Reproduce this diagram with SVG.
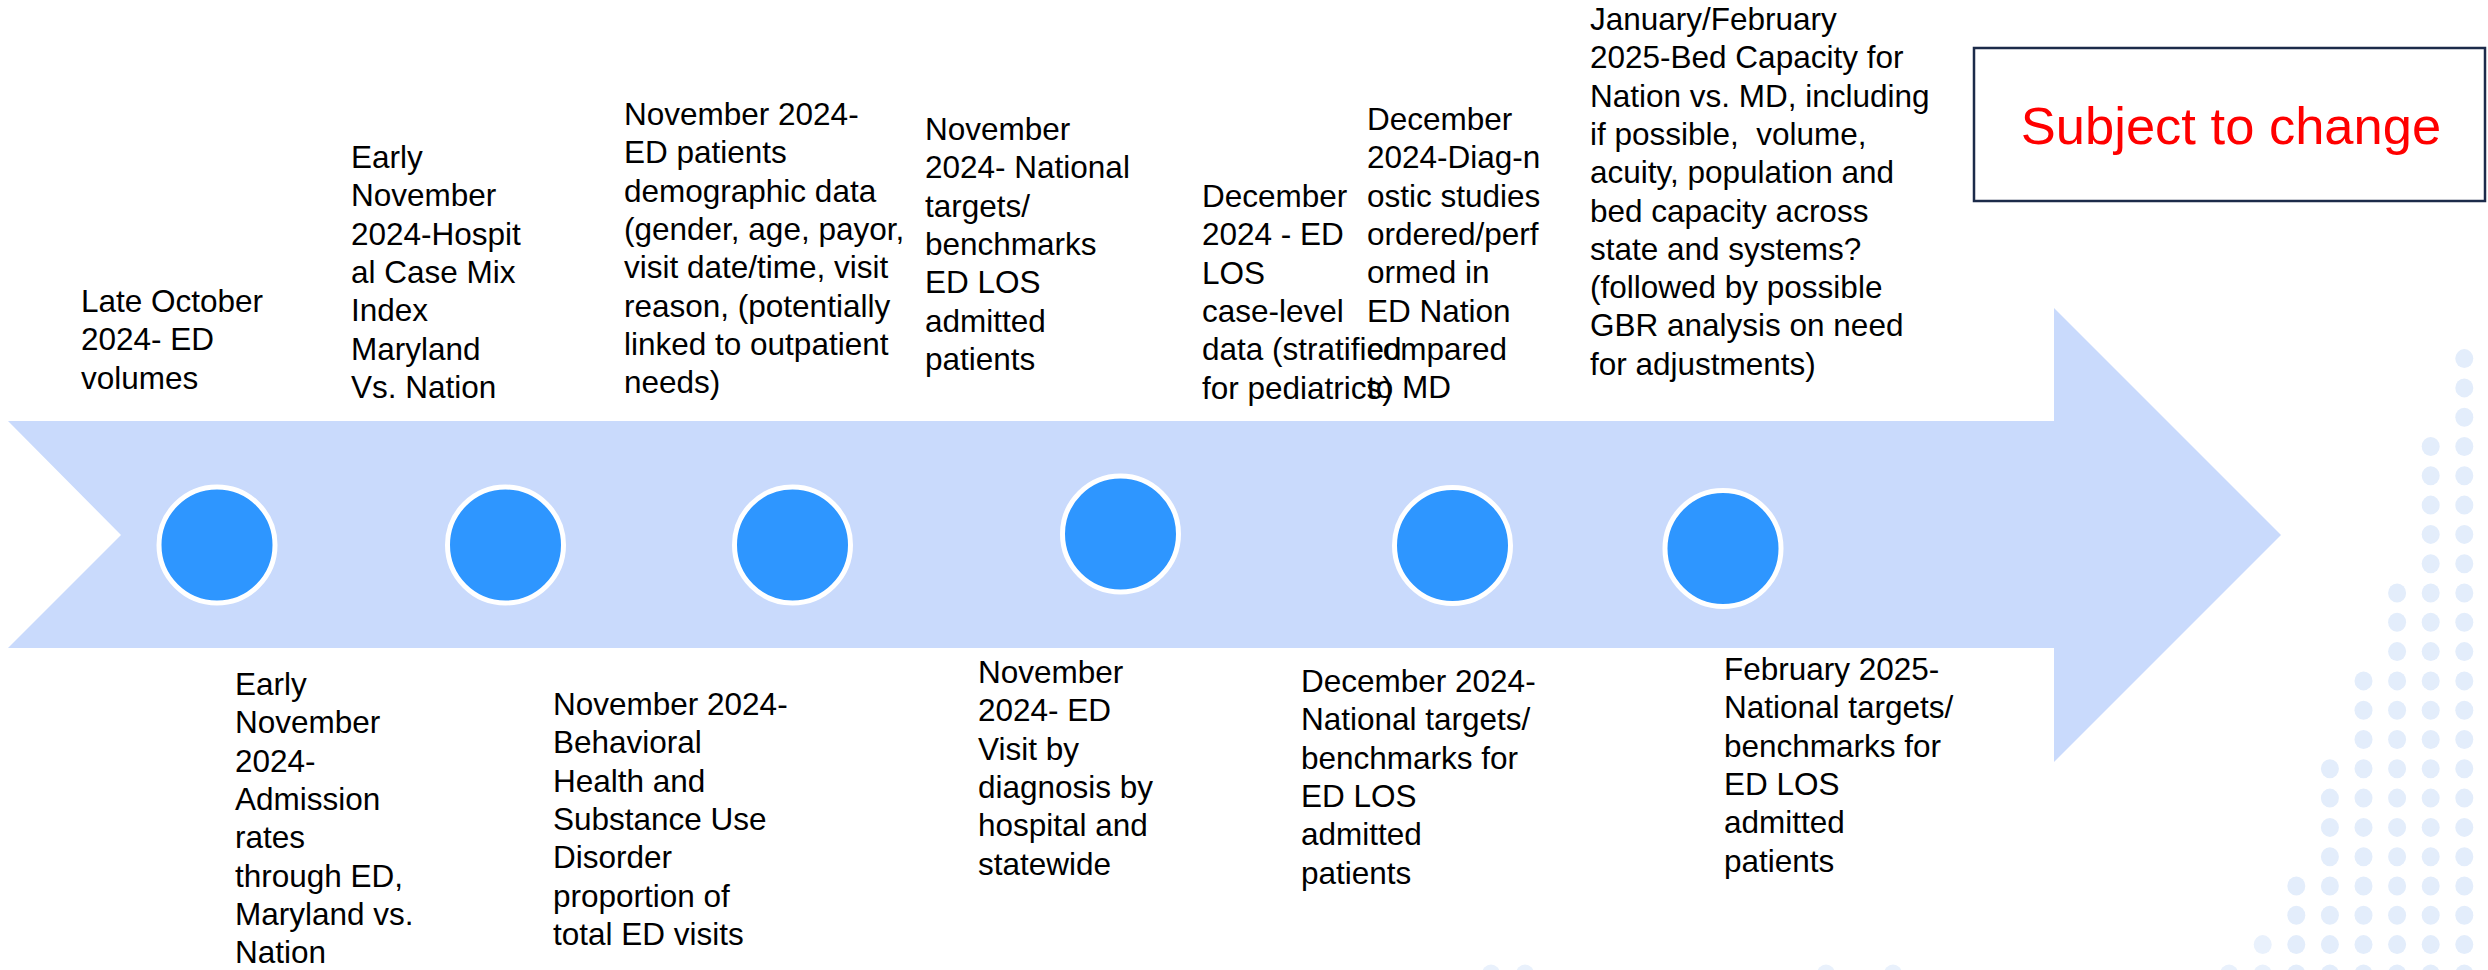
<svg xmlns="http://www.w3.org/2000/svg" width="2488" height="970" viewBox="0 0 2488 970">
<style>
.lbl{font-family:"Liberation Sans",Arial,sans-serif;font-size:31.5px;fill:#000000}
.ms{fill:#2E96FF;stroke:#FFFFFF;stroke-width:5}
.dot{fill:#E3EDFB}
.dotf{fill:#E9F1FC}
.note{font-family:"Liberation Sans",Arial,sans-serif;font-size:52.5px;fill:#FF0000}
</style>
<rect x="0" y="0" width="2488" height="970" fill="#FFFFFF"/>
<g id="dots">
<!-- col 0 -->
<ellipse class="dot" cx="2464.3" cy="358.6" rx="9" ry="9.5"/><ellipse class="dot" cx="2464.3" cy="387.9" rx="9" ry="9.5"/><ellipse class="dot" cx="2464.3" cy="417.2" rx="9" ry="9.5"/><ellipse class="dot" cx="2464.3" cy="446.5" rx="9" ry="9.5"/><ellipse class="dot" cx="2464.3" cy="475.8" rx="9" ry="9.5"/><ellipse class="dot" cx="2464.3" cy="505.1" rx="9" ry="9.5"/><ellipse class="dot" cx="2464.3" cy="534.4" rx="9" ry="9.5"/><ellipse class="dot" cx="2464.3" cy="563.7" rx="9" ry="9.5"/><ellipse class="dot" cx="2464.3" cy="593" rx="9" ry="9.5"/><ellipse class="dot" cx="2464.3" cy="622.3" rx="9" ry="9.5"/><ellipse class="dot" cx="2464.3" cy="651.6" rx="9" ry="9.5"/><ellipse class="dot" cx="2464.3" cy="680.9" rx="9" ry="9.5"/><ellipse class="dot" cx="2464.3" cy="710.2" rx="9" ry="9.5"/><ellipse class="dot" cx="2464.3" cy="739.5" rx="9" ry="9.5"/><ellipse class="dot" cx="2464.3" cy="768.8" rx="9" ry="9.5"/><ellipse class="dot" cx="2464.3" cy="798.1" rx="9" ry="9.5"/><ellipse class="dot" cx="2464.3" cy="827.4" rx="9" ry="9.5"/><ellipse class="dot" cx="2464.3" cy="856.7" rx="9" ry="9.5"/><ellipse class="dot" cx="2464.3" cy="886" rx="9" ry="9.5"/><ellipse class="dot" cx="2464.3" cy="915.3" rx="9" ry="9.5"/><ellipse class="dot" cx="2464.3" cy="944.6" rx="9" ry="9.5"/><ellipse class="dot" cx="2464.3" cy="973.9" rx="9" ry="9.5"/>
<!-- col 1 -->
<ellipse class="dot" cx="2430.7" cy="446.5" rx="9" ry="9.5"/><ellipse class="dot" cx="2430.7" cy="475.8" rx="9" ry="9.5"/><ellipse class="dot" cx="2430.7" cy="505.1" rx="9" ry="9.5"/><ellipse class="dot" cx="2430.7" cy="534.4" rx="9" ry="9.5"/><ellipse class="dot" cx="2430.7" cy="563.7" rx="9" ry="9.5"/><ellipse class="dot" cx="2430.7" cy="593" rx="9" ry="9.5"/><ellipse class="dot" cx="2430.7" cy="622.3" rx="9" ry="9.5"/><ellipse class="dot" cx="2430.7" cy="651.6" rx="9" ry="9.5"/><ellipse class="dot" cx="2430.7" cy="680.9" rx="9" ry="9.5"/><ellipse class="dot" cx="2430.7" cy="710.2" rx="9" ry="9.5"/><ellipse class="dot" cx="2430.7" cy="739.5" rx="9" ry="9.5"/><ellipse class="dot" cx="2430.7" cy="768.8" rx="9" ry="9.5"/><ellipse class="dot" cx="2430.7" cy="798.1" rx="9" ry="9.5"/><ellipse class="dot" cx="2430.7" cy="827.4" rx="9" ry="9.5"/><ellipse class="dot" cx="2430.7" cy="856.7" rx="9" ry="9.5"/><ellipse class="dot" cx="2430.7" cy="886" rx="9" ry="9.5"/><ellipse class="dot" cx="2430.7" cy="915.3" rx="9" ry="9.5"/><ellipse class="dot" cx="2430.7" cy="944.6" rx="9" ry="9.5"/><ellipse class="dot" cx="2430.7" cy="973.9" rx="9" ry="9.5"/>
<!-- col 2 -->
<ellipse class="dot" cx="2397.1" cy="593" rx="9" ry="9.5"/><ellipse class="dot" cx="2397.1" cy="622.3" rx="9" ry="9.5"/><ellipse class="dot" cx="2397.1" cy="651.6" rx="9" ry="9.5"/><ellipse class="dot" cx="2397.1" cy="680.9" rx="9" ry="9.5"/><ellipse class="dot" cx="2397.1" cy="710.2" rx="9" ry="9.5"/><ellipse class="dot" cx="2397.1" cy="739.5" rx="9" ry="9.5"/><ellipse class="dot" cx="2397.1" cy="768.8" rx="9" ry="9.5"/><ellipse class="dot" cx="2397.1" cy="798.1" rx="9" ry="9.5"/><ellipse class="dot" cx="2397.1" cy="827.4" rx="9" ry="9.5"/><ellipse class="dot" cx="2397.1" cy="856.7" rx="9" ry="9.5"/><ellipse class="dot" cx="2397.1" cy="886" rx="9" ry="9.5"/><ellipse class="dot" cx="2397.1" cy="915.3" rx="9" ry="9.5"/><ellipse class="dot" cx="2397.1" cy="944.6" rx="9" ry="9.5"/><ellipse class="dot" cx="2397.1" cy="973.9" rx="9" ry="9.5"/>
<!-- col 3 -->
<ellipse class="dot" cx="2363.5" cy="680.9" rx="9" ry="9.5"/><ellipse class="dot" cx="2363.5" cy="710.2" rx="9" ry="9.5"/><ellipse class="dot" cx="2363.5" cy="739.5" rx="9" ry="9.5"/><ellipse class="dot" cx="2363.5" cy="768.8" rx="9" ry="9.5"/><ellipse class="dot" cx="2363.5" cy="798.1" rx="9" ry="9.5"/><ellipse class="dot" cx="2363.5" cy="827.4" rx="9" ry="9.5"/><ellipse class="dot" cx="2363.5" cy="856.7" rx="9" ry="9.5"/><ellipse class="dot" cx="2363.5" cy="886" rx="9" ry="9.5"/><ellipse class="dot" cx="2363.5" cy="915.3" rx="9" ry="9.5"/><ellipse class="dot" cx="2363.5" cy="944.6" rx="9" ry="9.5"/><ellipse class="dot" cx="2363.5" cy="973.9" rx="9" ry="9.5"/>
<!-- col 4 -->
<ellipse class="dot" cx="2329.9" cy="768.8" rx="9" ry="9.5"/><ellipse class="dot" cx="2329.9" cy="798.1" rx="9" ry="9.5"/><ellipse class="dot" cx="2329.9" cy="827.4" rx="9" ry="9.5"/><ellipse class="dot" cx="2329.9" cy="856.7" rx="9" ry="9.5"/><ellipse class="dot" cx="2329.9" cy="886" rx="9" ry="9.5"/><ellipse class="dot" cx="2329.9" cy="915.3" rx="9" ry="9.5"/><ellipse class="dot" cx="2329.9" cy="944.6" rx="9" ry="9.5"/><ellipse class="dot" cx="2329.9" cy="973.9" rx="9" ry="9.5"/>
<!-- col 5 -->
<ellipse class="dot" cx="2296.3" cy="886" rx="9" ry="9.5"/><ellipse class="dot" cx="2296.3" cy="915.3" rx="9" ry="9.5"/><ellipse class="dot" cx="2296.3" cy="944.6" rx="9" ry="9.5"/><ellipse class="dot" cx="2296.3" cy="973.9" rx="9" ry="9.5"/>
<!-- col 6,7 and bottom row -->
<ellipse class="dotf" cx="2262.7" cy="944.6" rx="9" ry="9.5"/><ellipse class="dotf" cx="2262.7" cy="973.9" rx="9" ry="9.5"/>
<ellipse class="dotf" cx="2229.1" cy="973.9" rx="9" ry="9.5"/>
<ellipse class="dotf" cx="1893" cy="973.9" rx="9" ry="9.5"/><ellipse class="dotf" cx="1826" cy="973.9" rx="9" ry="9.5"/>
<ellipse class="dotf" cx="1525" cy="973.9" rx="9" ry="9.5"/><ellipse class="dotf" cx="1491" cy="973.9" rx="9" ry="9.5"/>
</g>
<g id="timeline-arrow">
<polygon points="8,421 2054,421 2054,308 2281,535 2054,762 2054,648 8,648 121,535" fill="#C9DAFC"/>
</g>
<g id="connectors"></g>
<g id="milestones">
<circle id="m1" class="ms" cx="217" cy="545" r="58"/>
<circle id="m2" class="ms" cx="505.5" cy="545" r="58"/>
<circle id="m3" class="ms" cx="792.5" cy="545" r="58"/>
<circle id="m4" class="ms" cx="1120.5" cy="534" r="58"/>
<circle id="m5" class="ms" cx="1452.5" cy="545.5" r="58"/>
<circle id="m6" class="ms" cx="1723" cy="548.5" r="58"/>
</g>
<g id="label-late-oct">
<text class="lbl" x="81" y="312"><tspan x="81" dy="0">Late October</tspan><tspan x="81" dy="38.3">2024- ED</tspan><tspan x="81" dy="38.3">volumes</tspan></text>
</g>
<g id="label-case-mix">
<text class="lbl" x="351" y="168"><tspan x="351" dy="0">Early</tspan><tspan x="351" dy="38.3">November</tspan><tspan x="351" dy="38.3">2024-Hospit</tspan><tspan x="351" dy="38.3">al Case Mix</tspan><tspan x="351" dy="38.3">Index</tspan><tspan x="351" dy="38.3">Maryland</tspan><tspan x="351" dy="38.3">Vs. Nation</tspan></text>
</g>
<g id="label-demographic">
<text class="lbl" x="624" y="125"><tspan x="624" dy="0">November 2024-</tspan><tspan x="624" dy="38.3">ED patients</tspan><tspan x="624" dy="38.3">demographic data</tspan><tspan x="624" dy="38.3">(gender, age, payor,</tspan><tspan x="624" dy="38.3">visit date/time, visit</tspan><tspan x="624" dy="38.3">reason, (potentially</tspan><tspan x="624" dy="38.3">linked to outpatient</tspan><tspan x="624" dy="38.3">needs)</tspan></text>
</g>
<g id="label-nov-targets">
<text class="lbl" x="925" y="140"><tspan x="925" dy="0">November</tspan><tspan x="925" dy="38.3">2024- National</tspan><tspan x="925" dy="38.3">targets/</tspan><tspan x="925" dy="38.3">benchmarks</tspan><tspan x="925" dy="38.3">ED LOS</tspan><tspan x="925" dy="38.3">admitted</tspan><tspan x="925" dy="38.3">patients</tspan></text>
</g>
<g id="label-dec-los">
<text class="lbl" x="1202" y="207"><tspan x="1202" dy="0">December</tspan><tspan x="1202" dy="38.3">2024 - ED</tspan><tspan x="1202" dy="38.3">LOS</tspan><tspan x="1202" dy="38.3">case-level</tspan><tspan x="1202" dy="38.3">data (stratified</tspan><tspan x="1202" dy="38.3">for pediatrics)</tspan></text>
</g>
<g id="label-dec-diag">
<text class="lbl" x="1367" y="130"><tspan x="1367" dy="0">December</tspan><tspan x="1367" dy="38.3">2024-Diag-n</tspan><tspan x="1367" dy="38.3">ostic studies</tspan><tspan x="1367" dy="38.3">ordered/perf</tspan><tspan x="1367" dy="38.3">ormed in</tspan><tspan x="1367" dy="38.3">ED Nation</tspan><tspan x="1367" dy="38.3">compared</tspan><tspan x="1367" dy="38.3">to MD</tspan></text>
</g>
<g id="label-bed-capacity">
<text class="lbl" x="1590" y="30"><tspan x="1590" dy="0">January/February</tspan><tspan x="1590" dy="38.3">2025-Bed Capacity for</tspan><tspan x="1590" dy="38.3">Nation vs. MD, including</tspan><tspan x="1590" dy="38.3" xml:space="preserve">if possible,  volume,</tspan><tspan x="1590" dy="38.3">acuity, population and</tspan><tspan x="1590" dy="38.3">bed capacity across</tspan><tspan x="1590" dy="38.3">state and systems?</tspan><tspan x="1590" dy="38.3">(followed by possible</tspan><tspan x="1590" dy="38.3">GBR analysis on need</tspan><tspan x="1590" dy="38.3">for adjustments)</tspan></text>
</g>
<g id="label-admission">
<text class="lbl" x="235" y="695"><tspan x="235" dy="0">Early</tspan><tspan x="235" dy="38.3">November</tspan><tspan x="235" dy="38.3">2024-</tspan><tspan x="235" dy="38.3">Admission</tspan><tspan x="235" dy="38.3">rates</tspan><tspan x="235" dy="38.3">through ED,</tspan><tspan x="235" dy="38.3">Maryland vs.</tspan><tspan x="235" dy="38.3">Nation</tspan></text>
</g>
<g id="label-behavioral">
<text class="lbl" x="553" y="715"><tspan x="553" dy="0">November 2024-</tspan><tspan x="553" dy="38.3">Behavioral</tspan><tspan x="553" dy="38.3">Health and</tspan><tspan x="553" dy="38.3">Substance Use</tspan><tspan x="553" dy="38.3">Disorder</tspan><tspan x="553" dy="38.3">proportion of</tspan><tspan x="553" dy="38.3">total ED visits</tspan></text>
</g>
<g id="label-visit-diagnosis">
<text class="lbl" x="978" y="683"><tspan x="978" dy="0">November</tspan><tspan x="978" dy="38.3">2024- ED</tspan><tspan x="978" dy="38.3">Visit by</tspan><tspan x="978" dy="38.3">diagnosis by</tspan><tspan x="978" dy="38.3">hospital and</tspan><tspan x="978" dy="38.3">statewide</tspan></text>
</g>
<g id="label-dec-targets">
<text class="lbl" x="1301" y="692"><tspan x="1301" dy="0">December 2024-</tspan><tspan x="1301" dy="38.3">National targets/</tspan><tspan x="1301" dy="38.3">benchmarks for</tspan><tspan x="1301" dy="38.3">ED LOS</tspan><tspan x="1301" dy="38.3">admitted</tspan><tspan x="1301" dy="38.3">patients</tspan></text>
</g>
<g id="label-feb-targets">
<text class="lbl" x="1724" y="680"><tspan x="1724" dy="0">February 2025-</tspan><tspan x="1724" dy="38.3">National targets/</tspan><tspan x="1724" dy="38.3">benchmarks for</tspan><tspan x="1724" dy="38.3">ED LOS</tspan><tspan x="1724" dy="38.3">admitted</tspan><tspan x="1724" dy="38.3">patients</tspan></text>
</g>
<g id="subject-to-change">
<rect x="1974" y="48" width="511" height="153" fill="#FFFFFF" stroke="#1C2B4A" stroke-width="2.5"/>
<text class="note" x="2231" y="144" text-anchor="middle">Subject to change</text>
</g>
</svg>
